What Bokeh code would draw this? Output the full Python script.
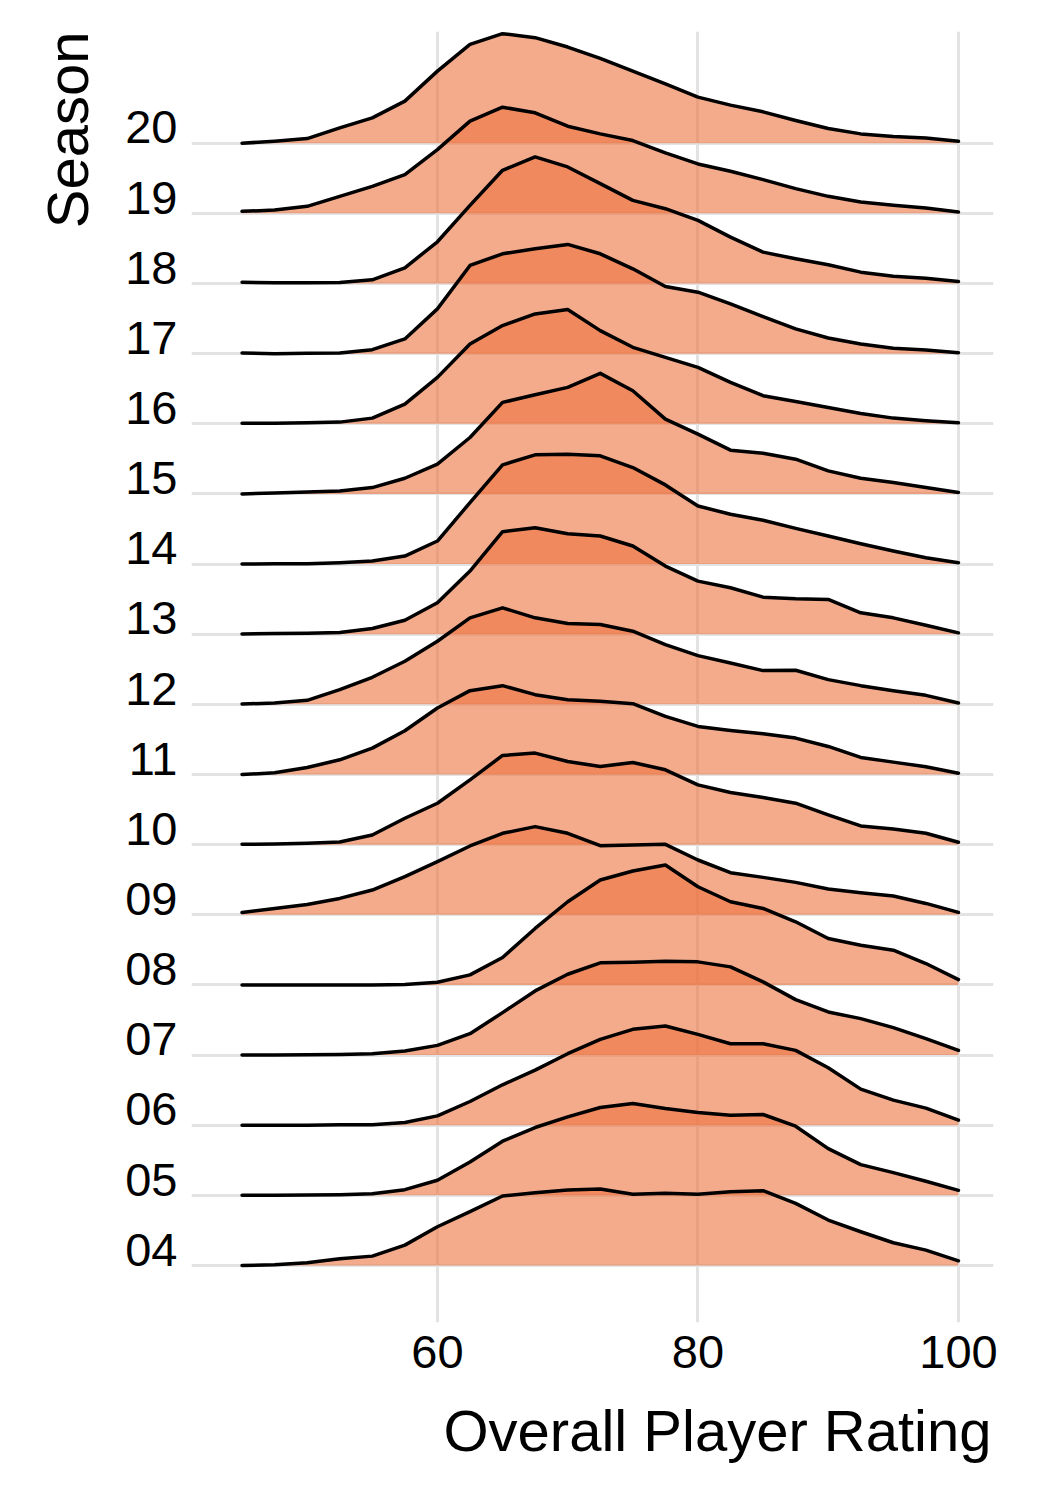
from bokeh.plotting import figure
from bokeh.models import Range1d, FixedTicker, CustomJSTickFormatter, Title
from bokeh.embed import file_html
from bokeh.resources import INLINE

# Rating grid at which the ridge heights were read
rating = [45, 47.5, 50, 52.5, 55, 57.5, 60, 62.5, 65, 67.5, 70, 72.5, 75,
          77.5, 80, 82.5, 85, 87.5, 90, 92.5, 95, 97.5, 100]

seasons = ["04", "05", "06", "07", "08", "09", "10", "11", "12", "13", "14",
           "15", "16", "17", "18", "19", "20"]

x_ticks = [60, 80, 100]

# Ridge heights (scaled density, 210 = one row spacing)
d04 = [0, 2, 8, 20, 28, 61, 116, 161, 208, 218, 226, 229, 213, 216, 213, 221, 224, 186, 136, 101, 68, 46, 14]
d05 = [0, 0, 1, 2, 5, 17, 45, 100, 162, 203, 235, 263, 275, 260, 248, 240, 242, 207, 140, 92, 68, 42, 15]
d06 = [0, 0, 0, 1, 1, 8, 28, 71, 121, 165, 214, 257, 287, 297, 272, 244, 244, 224, 172, 108, 75, 51, 15]
d07 = [0, 0, 1, 2, 4, 12, 29, 64, 127, 192, 242, 276, 278, 281, 279, 264, 219, 166, 129, 109, 82, 49, 14]
d08 = [0, 0, 0, 0, 0, 1, 8, 30, 82, 169, 249, 314, 341, 359, 294, 249, 229, 189, 139, 119, 104, 64, 16]
d09 = [7, 19, 31, 49, 74, 114, 159, 206, 244, 264, 244, 207, 209, 211, 164, 126, 112, 97, 77, 66, 56, 34, 7]
d10 = [1, 2, 4, 8, 29, 79, 124, 194, 267, 274, 249, 234, 246, 224, 179, 156, 141, 124, 89, 56, 47, 34, 7]
d11 = [0, 5, 21, 44, 79, 131, 199, 251, 266, 239, 224, 219, 212, 174, 144, 132, 122, 109, 84, 51, 37, 23, 4]
d12 = [1, 4, 12, 44, 81, 129, 189, 259, 289, 259, 242, 239, 219, 179, 146, 124, 101, 102, 74, 56, 41, 27, 4]
d13 = [1, 2, 3, 5, 17, 42, 94, 189, 307, 319, 301, 294, 264, 204, 159, 139, 111, 106, 104, 64, 49, 27, 4]
d14 = [0, 1, 1, 4, 9, 24, 69, 184, 297, 327, 329, 324, 289, 237, 174, 149, 131, 107, 84, 61, 39, 19, 4]
d15 = [0, 3, 6, 9, 19, 47, 89, 169, 274, 297, 319, 361, 309, 224, 179, 131, 122, 104, 69, 47, 34, 19, 4]
d16 = [2, 2, 3, 5, 17, 59, 139, 239, 294, 329, 342, 279, 229, 199, 169, 124, 84, 67, 49, 31, 17, 9, 3]
d17 = [2, 0, 1, 2, 12, 44, 134, 264, 299, 314, 327, 299, 254, 201, 184, 149, 111, 74, 47, 29, 16, 11, 3]
d18 = [4, 2, 2, 3, 11, 47, 125, 234, 339, 379, 349, 299, 249, 224, 189, 139, 94, 74, 56, 34, 22, 16, 6]
d19 = [6, 10, 21, 51, 81, 116, 191, 276, 318, 301, 261, 238, 218, 181, 148, 126, 101, 74, 51, 34, 24, 16, 4]
d20 = [0, 6, 14, 46, 76, 126, 216, 296, 328, 316, 288, 254, 216, 178, 138, 114, 94, 68, 44, 28, 20, 16, 6]

ridges = [d04, d05, d06, d07, d08, d09, d10, d11, d12, d13, d14, d15, d16, d17, d18, d19, d20]
ROW = 210.0
LABEL_OFF = 0.225
FONT = "Liberation Sans"

p = figure(width=1054, height=1504, output_backend="svg", toolbar_location=None,
           title=None,
           x_range=Range1d(41.12, 102.69), y_range=Range1d(-0.813, 17.593),
           min_border_left=191, min_border_right=61, min_border_top=31,
           min_border_bottom=182)
p.outline_line_color = None
p.background_fill_color = "white"

# grids
p.xgrid.ticker = FixedTicker(ticks=x_ticks)
p.ygrid.ticker = FixedTicker(ticks=list(range(len(seasons))))
for g in (p.xgrid, p.ygrid):
    g.grid_line_color = "#E3E3E3"
    g.grid_line_width = 3

# axes
p.xaxis.ticker = FixedTicker(ticks=x_ticks)
p.yaxis.ticker = FixedTicker(ticks=[i + LABEL_OFF for i in range(len(seasons))])
p.yaxis.formatter = CustomJSTickFormatter(args=dict(labs=seasons),
                                          code="return labs[Math.round(tick - %f)];" % LABEL_OFF)
for ax in (p.xaxis, p.yaxis):
    ax.axis_line_color = None
    ax.major_tick_line_color = None
    ax.minor_tick_line_color = None
    ax.major_label_text_font = FONT
    ax.major_label_text_font_size = "47px"
    ax.major_label_text_color = "black"
p.yaxis.major_label_standoff = 8
p.xaxis.major_label_standoff = 7

# ridges, top row first so lower rows sit in front
for i in range(len(seasons) - 1, -1, -1):
    h = ridges[i]
    top = [i + v / ROW for v in h]
    p.varea(x=rating, y1=[i] * len(rating), y2=top, fill_color="#ED7340", fill_alpha=0.6)
    p.line(x=rating, y=top, line_color="black", line_width=3.5, line_join="round",
           line_cap="round")

xt = Title(text="Overall Player Rating", align="right", text_font=FONT,
           text_font_size="58px", text_font_style="normal", text_color="black",
           standoff=50, offset=2)
p.add_layout(xt, "below")
yt = Title(text="Season", align="right", text_font=FONT,
           text_font_size="58px", text_font_style="normal", text_color="black",
           standoff=46)
p.add_layout(yt, "left")

open("out.html", "w").write(file_html(p, INLINE))
